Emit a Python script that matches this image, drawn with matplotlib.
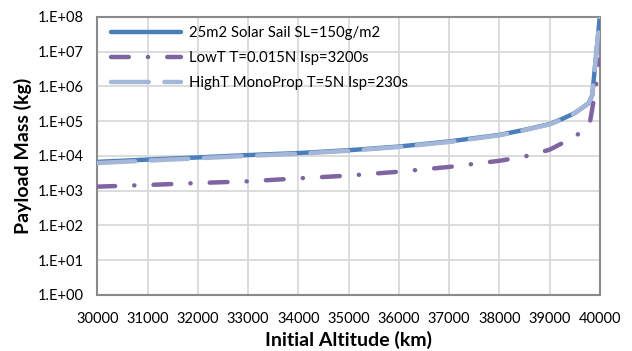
import math
import matplotlib
matplotlib.use("Agg")
import matplotlib.pyplot as plt
from matplotlib.ticker import FixedLocator, FuncFormatter

plt.rcParams['font.family'] = ['Lato', 'DejaVu Sans']

# solar sail (and high thrust) curves
alt_sail = [30000, 31000, 32000, 33000, 34000, 35000, 36000, 37000, 38000,
            38500, 39000, 39250, 39500, 39650, 39780, 39850, 40000]
mass_sail = [6.7e3, 7.8e3, 9.0e3, 1.05e4, 1.2e4, 1.45e4, 1.85e4, 2.6e4, 4.0e4,
             5.6e4, 8.2e4, 1.15e5, 1.7e5, 2.4e5, 3.3e5, 5.5e5, 1.0e8]
mass_hight = [6.2e3, 7.3e3, 8.5e3, 1.0e4, 1.15e4, 1.4e4, 1.8e4, 2.5e4, 3.9e4,
              5.5e4, 8.0e4, 1.12e5, 1.68e5, 2.4e5, 3.3e5, 5.5e5, 1.0e8]

# low thrust curve
alt_lowt = [30000, 31000, 32000, 33000, 34000, 35000, 36000, 37000, 38000,
            38500, 39000, 39250, 39500, 39700, 39800, 39900, 40000]
mass_lowt = [1.3e3, 1.45e3, 1.65e3, 1.85e3, 2.25e3, 2.7e3, 3.5e3, 4.8e3, 7.2e3,
             9.5e3, 1.5e4, 2.3e4, 3.5e4, 6.0e4, 8.5e4, 6.0e5, 6.0e6]

labels = ["25m2 Solar Sail SL=150g/m2",
          "LowT T=0.015N Isp=3200s",
          "HighT MonoProp T=5N Isp=230s"]
colors = ["#4a7ebb", "#8064a2", "#a4b7d8"]

x_ticks = list(range(30000, 40001, 1000))
y_ticks = [10.0 ** k for k in range(0, 9)]

fig = plt.figure(figsize=(6.32, 3.51), dpi=100)
ax = fig.add_axes([0.154, 0.16, 0.795, 0.792])

ax.plot(alt_sail, mass_sail, color=colors[0], lw=3.2, solid_capstyle='round',
        label=labels[0], zorder=3)
ax.plot(alt_lowt, mass_lowt, color=colors[1], lw=3.2, dash_capstyle='round',
        dashes=(4.0, 4.3, 0.05, 4.3), label=labels[1], zorder=4)
ax.plot(alt_sail, mass_hight, color=colors[2], lw=3.2, dash_capstyle='round',
        dashes=(8.5, 3.5), label=labels[2], zorder=5)

ax.set_yscale('log')
ax.set_xlim(30000, 40000)
ax.set_ylim(1, 1e8)
ax.xaxis.set_major_locator(FixedLocator(x_ticks))
ax.yaxis.set_major_locator(FixedLocator(y_ticks))
ax.yaxis.set_minor_locator(FixedLocator([]))
ax.yaxis.set_major_formatter(FuncFormatter(lambda v, p: "1.E+%02d" % round(math.log10(v))))
ax.tick_params(axis='both', length=0, labelsize=10.5, colors='#000000')
ax.tick_params(axis='x', pad=12)
ax.tick_params(axis='y', pad=10)

ax.grid(True, color='#d9d9d9', lw=1.3, zorder=0)
ax.set_axisbelow(True)
for s in ax.spines.values():
    s.set_color('#8a8a8a')
    s.set_linewidth(1.5)

ax.set_xlabel("Initial Altitude (km)", fontsize=14, fontweight='bold', labelpad=4)
ax.set_ylabel("Payload Mass (kg)", fontsize=14, fontweight='bold', labelpad=4)

leg = ax.legend(loc='upper left', frameon=False, fontsize=10.7, handlelength=4.7,
                handletextpad=0.5, labelspacing=0.75, borderaxespad=0.2,
                bbox_to_anchor=(0.01, 1.0))

fig.savefig("out.png", dpi=100)
